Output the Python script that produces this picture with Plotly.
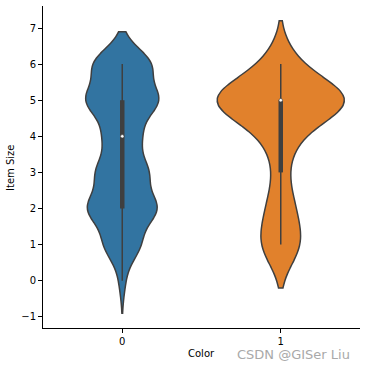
import numpy as np
import plotly.graph_objects as go

# ---- data ----
categories = [0, 1]
tick_labels = ["0", "1"]
blue_values = [0, 1, 2, 3, 4, 5, 6]
blue_counts = [18, 109, 212, 155, 107, 221, 178]
orange_values = [1, 2, 3, 4, 5, 6]
orange_counts = [22, 14, 6, 15, 78, 15]
bandwidths = [0.45, 0.6]
y_ticks = [-1, 0, 1, 2, 3, 4, 5, 6, 7]

colors = ["#3274a1", "#e1812c"]
GRAY = "#3f3f3f"
FONT = "DejaVu Sans"

samples = [
    np.repeat(blue_values, blue_counts).astype(float),
    np.repeat(orange_values, orange_counts).astype(float),
]


def peak_density(s, bw):
    grid = np.linspace(s.min() - 2 * bw, s.max() + 2 * bw, 300)
    d = np.exp(-0.5 * ((grid[:, None] - s[None, :]) / bw) ** 2).sum(axis=1)
    d /= len(s) * bw * np.sqrt(2 * np.pi)
    return d.max()


peaks = [peak_density(s, bw) for s, bw in zip(samples, bandwidths)]
widths = [0.8 * p / max(peaks) for p in peaks]

fig = go.Figure()
for cat, s, bw, col, w in zip(categories, samples, bandwidths, colors, widths):
    fig.add_trace(go.Violin(
        x0=cat, y=s, width=w, bandwidth=bw, spanmode="soft",
        fillcolor=col, line=dict(color=GRAY, width=1.5), opacity=1,
        points=False, box_visible=False, meanline_visible=False,
        scalemode="width", showlegend=False, hoverinfo="skip",
    ))

for cat, s in zip(categories, samples):
    q1, q2, q3 = np.percentile(s, [25, 50, 75])
    iqr = q3 - q1
    lo = s[s >= q1 - 1.5 * iqr].min()
    hi = s[s <= q3 + 1.5 * iqr].max()
    fig.add_trace(go.Scatter(x=[cat, cat], y=[lo, hi], mode="lines",
                             line=dict(color=GRAY, width=1.5),
                             showlegend=False, hoverinfo="skip"))
    fig.add_trace(go.Scatter(x=[cat, cat], y=[q1, q3], mode="lines",
                             line=dict(color=GRAY, width=4.5),
                             showlegend=False, hoverinfo="skip"))
    fig.add_trace(go.Scatter(x=[cat], y=[q2], mode="markers",
                             marker=dict(color="white", size=3.5,
                                         line=dict(color=GRAY, width=0.6)),
                             showlegend=False, hoverinfo="skip"))

axis_common = dict(showgrid=False, zeroline=False, showline=True,
                   linecolor="#000000", linewidth=1, ticks="outside",
                   ticklen=4, tickwidth=1, tickcolor="#000000",
                   tickfont=dict(family=FONT, size=10, color="#000000"),
                   mirror=False, automargin=False)

fig.update_layout(
    width=366, height=366,
    margin=dict(l=43, r=6, t=6, b=38),
    paper_bgcolor="white", plot_bgcolor="white",
    font=dict(family=FONT, size=10, color="#000000"),
    xaxis=dict(range=[-0.5, 1.5], tickvals=categories, ticktext=tick_labels,
               **axis_common),
    yaxis=dict(range=[-1.31, 7.61], tickvals=y_ticks,
               ticktext=[str(v).replace("-", "\u2212") for v in y_ticks],
               **axis_common),
    annotations=[
        dict(text="Item Size", x=-0.101, y=0.497, xref="paper", yref="paper",
             textangle=-90, showarrow=False, xanchor="center", yanchor="middle",
             font=dict(family=FONT, size=10, color="#000000")),
        dict(text="Color", x=0.5, y=-0.078, xref="paper", yref="paper",
             showarrow=False, xanchor="center", yanchor="middle",
             font=dict(family=FONT, size=10, color="#000000")),
        dict(text="CSDN @GISer Liu", x=0.789, y=-0.082, xref="paper", yref="paper",
             showarrow=False, xanchor="center", yanchor="middle",
             font=dict(family=FONT, size=13, color="#a9a9a9")),
    ],
)

fig.write_html("out.html",
               config={"displayModeBar": False},
               post_script="document.body.style.margin='0px';"
                           "document.body.style.overflow='hidden';")
